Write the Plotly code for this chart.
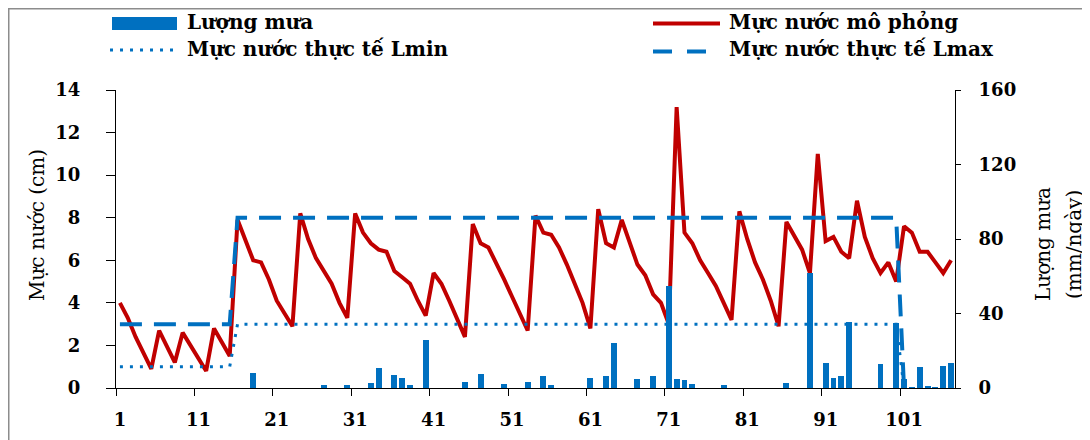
import plotly.graph_objects as go

# ---------------- data ----------------
days = list(range(1, 108))

water_sim = [
    4.0, 3.3, 2.4, 1.7, 0.9, 2.7, 1.9, 1.2, 2.6, 2.0,
    1.4, 0.8, 2.8, 2.1, 1.5, 7.9, 7.0, 6.0, 5.9, 5.1,
    4.1, 3.5, 2.9, 8.2, 7.0, 6.1, 5.5, 4.9, 4.0, 3.3,
    8.2, 7.3, 6.8, 6.5, 6.4, 5.5, 5.2, 4.9, 4.1, 3.4,
    5.4, 4.9, 4.1, 3.2, 2.4, 7.7, 6.8, 6.6, 5.9, 5.1,
    4.3, 3.5, 2.7, 8.1, 7.3, 7.2, 6.6, 5.8, 4.9, 4.0,
    2.8, 8.4, 6.8, 6.6, 7.9, 6.8, 5.8, 5.3, 4.4, 4.0,
    3.0, 13.2, 7.3, 6.8, 6.0, 5.4, 4.8, 4.0, 3.2, 8.3,
    7.0, 5.9, 5.1, 4.1, 2.9, 7.8, 7.1, 6.5, 5.4, 11.0,
    6.9, 7.1, 6.4, 6.1, 8.8, 7.1, 6.1, 5.4, 5.9, 5.0,
    7.6, 7.3, 6.4, 6.4, 5.9, 5.4, 6.0,
]

# observed levels (step series: value at the days where it changes)
lmin_days = [1, 15, 16, 100, 101]
lmin_vals = [1, 1, 3, 3, 0]
lmax_days = [1, 15, 16, 100, 101]
lmax_vals = [3, 3, 8, 8, 0]

# daily rainfall (only rainy days)
rain_days = [18, 27, 30, 33, 34, 36, 37, 38, 40, 45, 47, 50, 53, 55, 56,
             61, 63, 64, 67, 69, 71, 72, 73, 74, 78, 86, 89, 91, 92, 93,
             94, 98, 100, 101, 102, 103, 104, 105, 106, 107]
rain_mm = [8.0, 1.4, 1.4, 2.9, 11.0, 7.2, 5.4, 1.8, 26.0, 3.2, 7.5, 2.1, 3.2, 6.3, 1.8,
           5.6, 6.3, 24.0, 5.0, 6.3, 55.0, 5.0, 4.5, 2.1, 1.4, 2.7, 62.0, 13.4, 5.4, 6.4,
           35.4, 13.0, 35.0, 5.0, 0.5, 11.3, 1.2, 0.5, 12.0, 13.6]

x_tick_labels = ["1", "11", "21", "31", "41", "51", "61", "71", "81", "91", "101"]
y_ticks = [0, 2, 4, 6, 8, 10, 12, 14]
y2_ticks = [0, 40, 80, 120, 160]

names = ["Lượng mưa", "Mực nước mô phỏng", "Mực nước thực tế Lmin", "Mực nước thực tế Lmax"]

# ---------------- styling ----------------
BLUE = "#0070C0"
RED = "#C00000"
FONT = "DejaVu Serif"
OFF = 8                      # page margin of the html body
W, H = 1090 - OFF, 440 - OFF
L, R, T, B = 116 - OFF, 135, 90 - OFF, 52
PW, PH = W - L - R, H - T - B


def px(x):
    """reference-image x pixel -> paper coordinate"""
    return (x - OFF - L) / PW


def py(y):
    """reference-image y pixel -> paper coordinate"""
    return (H - B - (y - OFF)) / PH


fig = go.Figure()

fig.add_trace(go.Bar(x=rain_days, y=rain_mm, yaxis="y2", name=names[0],
                     marker=dict(color=BLUE, line=dict(width=0)), width=0.75,
                     showlegend=False))
fig.add_trace(go.Scatter(x=days, y=water_sim, mode="lines", name=names[1],
                         line=dict(color=RED, width=4), showlegend=False))
fig.add_trace(go.Scatter(x=lmin_days, y=lmin_vals, mode="lines", name=names[2],
                         line=dict(color=BLUE, width=3, dash="3px,7px"), showlegend=False))
fig.add_trace(go.Scatter(x=lmax_days, y=lmax_vals, mode="lines", name=names[3],
                         line=dict(color=BLUE, width=4, dash="22px,12px"), showlegend=False))

tick_font = dict(family=FONT, size=18, color="black", weight="bold")

fig.update_layout(
    width=W, height=H,
    margin=dict(l=L, r=R, t=T, b=B, autoexpand=False),
    paper_bgcolor="white", plot_bgcolor="white",
    showlegend=False,
    bargap=0,
    xaxis=dict(range=[0.5, 107.5], tickmode="array",
               tickvals=[int(t) - 0.5 for t in x_tick_labels], ticktext=x_tick_labels,
               ticklabelshift=4, ticklabelstandoff=8,
               ticks="outside", ticklen=7, tickcolor="black",
               showline=True, linecolor="black", linewidth=1,
               showgrid=False, zeroline=False, tickfont=tick_font),
    yaxis=dict(range=[0, 14], tickmode="array", tickvals=y_ticks,
               ticks="outside", ticklen=9, tickcolor="black", ticklabelstandoff=22,
               showline=True, linecolor="black", linewidth=1,
               showgrid=False, zeroline=False, tickfont=tick_font),
    yaxis2=dict(range=[0, 160], tickmode="array", tickvals=y2_ticks,
                overlaying="y", side="right",
                ticks="outside", ticklen=5, tickcolor="black", ticklabelstandoff=14,
                showline=True, linecolor="black", linewidth=1,
                showgrid=False, zeroline=False, tickfont=tick_font),
)

# outer frame (top and left edges visible)
fig.add_shape(type="rect", xref="paper", yref="paper",
              x0=px(OFF + 0.75), x1=px(1090 + 20), y0=py(440 + 20), y1=py(OFF + 0.75),
              line=dict(color="#8c8c8c", width=1.5), layer="below")

# axis titles
title_font = dict(family=FONT, size=20, color="black")
fig.add_annotation(text="Mực nước (cm)", xref="paper", yref="paper",
                   x=px(37), y=py(225), textangle=-90, showarrow=False,
                   xanchor="center", yanchor="middle", font=title_font)
fig.add_annotation(text="Lượng mưa", xref="paper", yref="paper",
                   x=px(1043), y=py(244), textangle=-90, showarrow=False,
                   xanchor="center", yanchor="middle", font=title_font)
fig.add_annotation(text="(mm/ngày)", xref="paper", yref="paper",
                   x=px(1074), y=py(245), textangle=-90, showarrow=False,
                   xanchor="center", yanchor="middle", font=title_font)

# legend (drawn as symbols + real text)
leg_font = dict(family=FONT, size=20, color="black", weight="bold")
fig.add_shape(type="rect", xref="paper", yref="paper",
              x0=px(112), x1=px(177), y0=py(30), y1=py(17),
              fillcolor=BLUE, line=dict(width=0))
fig.add_shape(type="line", xref="paper", yref="paper",
              x0=px(653), x1=px(720), y0=py(23.5), y1=py(23.5),
              line=dict(color=RED, width=4))
fig.add_shape(type="line", xref="paper", yref="paper",
              x0=px(110), x1=px(175), y0=py(50), y1=py(50),
              line=dict(color=BLUE, width=3, dash="3px,7px"))
fig.add_shape(type="line", xref="paper", yref="paper",
              x0=px(653), x1=px(707), y0=py(51.5), y1=py(51.5),
              line=dict(color=BLUE, width=4, dash="19px,15px"))

leg_items = [(names[0], 185, 22), (names[1], 727, 22),
             (names[2], 185, 49), (names[3], 727, 49)]
for txt, lx, ly in leg_items:
    fig.add_annotation(text=txt, xref="paper", yref="paper", x=px(lx), y=py(ly),
                       xanchor="left", yanchor="middle", showarrow=False, font=leg_font)

fig.write_html("out.html")
